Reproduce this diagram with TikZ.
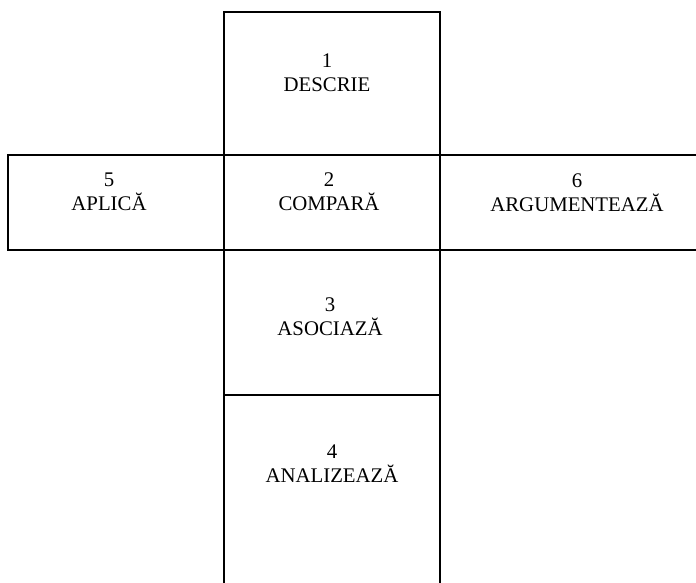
\documentclass[tikz,border=0pt]{standalone}
\usepackage{fontspec}
\setmainfont{Liberation Serif}
\usetikzlibrary{positioning}

\tikzset{
  face/.style={draw, line width=1.3pt},
  lbl/.style={align=center, anchor=base, inner sep=0pt,
    font=\fontsize{15.6}{18}\selectfont}
}

\begin{document}
\begin{tikzpicture}[x=0.75pt, y=-0.75pt]
  \useasboundingbox (0,0) rectangle (696,582);
  \clip (0,0) rectangle (696,582);
  % faces of the net
  \draw[face] (224,12)  rectangle (440,155);
  \draw[face] (8,155)   rectangle (224,250);
  \draw[face] (224,155) rectangle (440,250);
  \draw[face] (440,155) rectangle (740,250);
  \draw[face] (224,250) rectangle (440,395);
  \draw[face] (224,395) rectangle (440,620);
  % labels
  \node[lbl] (descrie)      at (327,91)  {1\\DESCRIE};
  \node[lbl] (compara)      at (329,210) {2\\COMPARĂ};
  \node[lbl] (asociaza)     at (330,335) {3\\ASOCIAZĂ};
  \node[lbl] (analizeaza)   at (332,482) {4\\ANALIZEAZĂ};
  \node[lbl] (aplica)       at (109,210) {5\\APLICĂ};
  \node[lbl] (argumenteaza) at (577,211) {6\\ARGUMENTEAZĂ};
\end{tikzpicture}
\end{document}
